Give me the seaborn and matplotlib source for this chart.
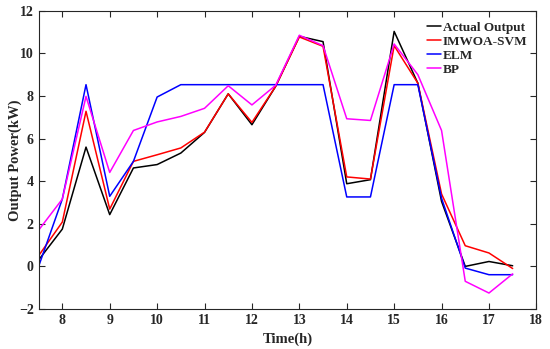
import numpy as np
import pandas as pd
import matplotlib
matplotlib.use('Agg')
import matplotlib.pyplot as plt
import seaborn as sns

time_h = [7.5, 8, 8.5, 9, 9.5, 10, 10.5, 11, 11.5, 12, 12.5, 13, 13.5,
          14, 14.5, 15, 15.5, 16, 16.5, 17, 17.5]
actual = [0.3, 1.75, 5.6, 2.43, 4.62, 4.78, 5.32, 6.29, 8.1, 6.65, 8.45, 10.8, 10.55,
          3.88, 4.07, 11.03, 8.6, 3.05, 0.0, 0.23, 0.03]
imwoa_svm = [0.5, 2.08, 7.28, 2.69, 4.93, 5.24, 5.56, 6.3, 8.1, 6.76, 8.45, 10.77, 10.33,
             4.2, 4.1, 10.36, 8.6, 3.4, 0.97, 0.63, -0.1]
elm = [0.0, 3.16, 8.53, 3.29, 4.93, 7.95, 8.53, 8.53, 8.53, 8.53, 8.53, 8.53, 8.53,
       3.26, 3.26, 8.53, 8.53, 3.2, -0.08, -0.39, -0.39]
bp = [1.7, 3.16, 7.98, 4.41, 6.38, 6.78, 7.04, 7.42, 8.48, 7.58, 8.5, 10.85, 10.36,
      6.93, 6.85, 10.44, 9.0, 6.38, -0.7, -1.25, -0.35]

series_names = ['Actual Output', 'IMWOA-SVM', 'ELM', 'BP']
series_colors = ['black', 'red', 'blue', 'magenta']

df = pd.DataFrame({
    'time': time_h * 4,
    'power': actual + imwoa_svm + elm + bp,
    'model': np.repeat(series_names, len(time_h)),
})

sns.set_style('ticks')
plt.rcParams['font.family'] = ['Liberation Serif', 'DejaVu Serif']
plt.rcParams['font.weight'] = 'bold'

fig = plt.figure(figsize=(5.5, 3.49), dpi=100)
ax = fig.add_axes([0.0702, 0.1146, 0.905, 0.8546])
sns.lineplot(data=df, x='time', y='power', hue='model', hue_order=series_names,
             palette=series_colors, linewidth=1.1, ax=ax, sort=False)

ax.set_xlim(7.5, 18)
ax.set_ylim(-2, 12)
ax.set_xticks(range(8, 19))
ax.set_yticks(range(-2, 13, 2))
ax.tick_params(direction='in', top=True, right=True, labelsize=10, length=4)
for lbl in ax.get_xticklabels() + ax.get_yticklabels():
    lbl.set_fontweight('bold')
ax.set_xlabel('Time(h)', fontsize=10.5, fontweight='bold')
ax.set_ylabel('Output Power(kW)', fontsize=10.5, fontweight='bold')
ax.xaxis.set_label_coords(0.5, -0.08)
ax.yaxis.set_label_coords(-0.034, 0.5)
for s in ax.spines.values():
    s.set_linewidth(0.8)

# legend sits tight in the top-right corner, no frame
leg = ax.legend(loc='upper right', bbox_to_anchor=(0.995, 0.985), frameon=False,
                handlelength=1.0, handletextpad=0.15, labelspacing=0.12,
                borderaxespad=0.1, prop={'weight': 'bold', 'size': 9.5})

fig.savefig('out.png', dpi=100)
